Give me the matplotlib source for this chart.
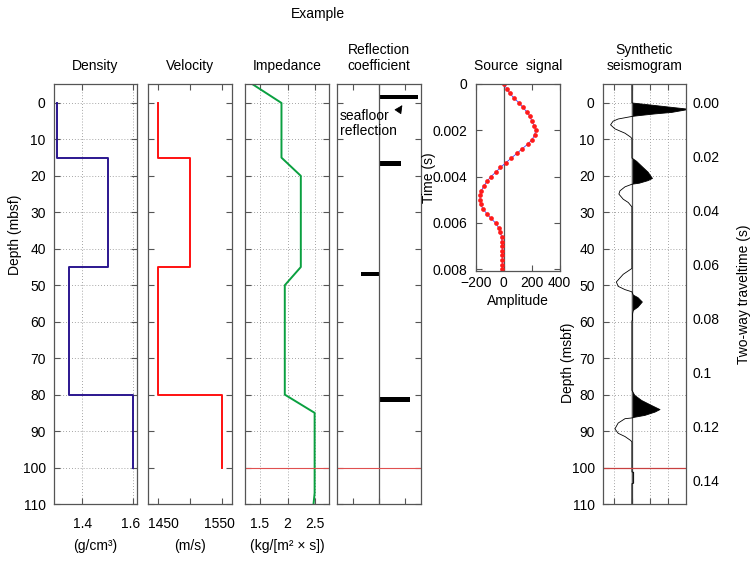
import numpy as np
import matplotlib
matplotlib.use("Agg")
import matplotlib.pyplot as plt
from matplotlib.transforms import ScaledTranslation

plt.rcParams["font.family"] = ["Liberation Sans", "DejaVu Sans"]
plt.rcParams["font.size"] = 10

# Layer model (depth in mbsf)
layer_top = [0, 15, 45, 80]
layer_bottom = [15, 45, 80, 100]
density = [1.30, 1.50, 1.35, 1.60]          # g/cm3
velocity = [1450, 1500, 1450, 1550]         # m/s

# Impedance as resampled on 5 m steps
imp_depth = [-5, 0, 15, 20, 45, 50, 80, 85, 107, 110]
imp_value = [1.38, 1.89, 1.89, 2.24, 2.24, 1.95, 1.95, 2.49, 2.49, 2.47]

# Reflection coefficients
refl_depth = [-1.7, 16.6, 46.9, 81.3]
refl_coef = [0.076, 0.043, -0.035, 0.059]

# Source signal, sampled every 0.2 ms
src_amp = [0, 21, 43, 71, 107, 136, 164, 189, 200, 219, 229, 221, 203, 171,
           131, 93, 53, 14, -24, -57, -93, -121, -143, -161, -169, -172, -166,
           -150, -121, -93, -59, -38, -26, -16, -14, -11, -11, -11, -11, -10, -10]
src_time = np.arange(len(src_amp)) * 0.0002

# Synthetic seismogram trace
seis_depth = [-5, 0, 1.7, 1.9, 2.6, 3.0, 3.5, 3.7, 4.4, 5.0, 6.0, 7.1, 8.3, 9.4, 9.8,
              15.1, 16.0, 17.7, 19.0, 20.7, 21.3, 22.0, 22.3, 23.0, 24.1, 25.0, 26.4,
              27.3, 28.5,
              45.4, 47.0, 49.1, 50.3, 51.2, 51.8, 52.7, 53.4, 54.6, 56.0, 56.9, 57.8,
              59.6, 59.8,
              78.8, 80.2, 81.6, 83.0, 84.1, 84.8, 85.7, 86.2, 86.4, 86.6, 87.8, 89.4,
              90.6, 91.5, 92.6, 93.0,
              101.2, 101.3, 104.3, 104.4, 110]
seis_amp = [0, 0, 1.55, 1.5, 1.1, 0.64, 0.17, 0, -0.38, -0.52, -0.59, -0.47, -0.19, -0.03, 0,
            0, 0.13, 0.31, 0.45, 0.57, 0.45, 0.21, 0, -0.19, -0.33, -0.36, -0.24,
            -0.10, 0,
            0, -0.24, -0.43, -0.38, -0.19, 0, 0.04, 0.17, 0.29, 0.17, 0.04, 0.02,
            0.02, 0,
            0, 0.08, 0.27, 0.55, 0.78, 0.64, 0.36, 0.08, 0, -0.19, -0.38, -0.47,
            -0.38, -0.19, -0.03, 0,
            0, 0.05, 0.05, 0, 0]

twt_ticks = [0, 0.02, 0.04, 0.06, 0.08, 0.1, 0.12, 0.14]
twt_labels = ["0.00", "0.02", "0.04", "0.06", "0.08", "0.1", "0.12", "0.14"]
twt_scale = 740  # depth (m) per second of two-way time

W, H = 752, 563
AX_COL = "#555555"
GRID = dict(color="#888888", linestyle=(0, (1, 2.5)), linewidth=0.6)

fig = plt.figure(figsize=(W / 100, H / 100), dpi=100)


def add_axes(x0, x1, y0, y1):
    return fig.add_axes([x0 / W, 1 - y1 / H, (x1 - x0) / W, (y1 - y0) / H])


def style(ax, xpad=9):
    for s in ax.spines.values():
        s.set_color(AX_COL)
        s.set_linewidth(0.9)
    ax.tick_params(direction="in", top=True, right=True, length=4, width=0.8,
                   color=AX_COL, labelsize=10)
    ax.tick_params(axis="x", pad=xpad)
    ax.tick_params(axis="y", pad=6)


def depth_panel(x0, x1, title, grid=True, ylabels=False):
    ax = add_axes(x0, x1, 84, 504)
    style(ax)
    ax.set_ylim(110, -5.2)
    ax.set_yticks(range(0, 111, 10))
    if not ylabels:
        ax.set_yticklabels([])
    if grid:
        ax.grid(True, **GRID)
    ax.set_title(title, fontsize=10, pad=10)
    ax.set_axisbelow(True)
    return ax


def step_profile(values):
    xs, ys = [], []
    for top, bot, v in zip(layer_top, layer_bottom, values):
        xs += [v, v]
        ys += [top, bot]
    return xs, ys


def nudge(label, dx_px):
    label.set_transform(label.get_transform() +
                        ScaledTranslation(dx_px / 100, 0, fig.dpi_scale_trans))


# Density
ax1 = depth_panel(54, 137, "Density", ylabels=True)
x, y = step_profile(density)
ax1.plot(x, y, color="#2b168f", lw=1.4)
ax1.set_xlim(1.29, 1.615)
ax1.set_xticks([1.4, 1.6])
ax1.set_xticklabels(["1.4", "1.6"])
ax1.set_xlabel("(g/cm³)", labelpad=6)
ax1.set_ylabel("Depth (mbsf)")
ax1.yaxis.set_label_coords(-0.39, 0.64)
nudge(ax1.get_xticklabels()[1], -3)

# Velocity
ax2 = depth_panel(148, 232, "Velocity", grid=False)
x, y = step_profile(velocity)
ax2.plot(x, y, color="#ff1010", lw=1.4)
ax2.set_xlim(1434, 1566)
ax2.set_xticks([1450, 1500, 1550])
ax2.set_xticklabels(["1450", "", "1550"])
ax2.set_xlabel("(m/s)", labelpad=6)
nudge(ax2.get_xticklabels()[0], 5)
nudge(ax2.get_xticklabels()[2], -2)

# Impedance
ax3 = depth_panel(245, 329, "Impedance")
ax3.plot(imp_value, imp_depth, color="#0aa040", lw=1.4)
ax3.set_xlim(1.23, 2.75)
ax3.set_xticks([1.5, 2, 2.5])
ax3.set_xticklabels(["1.5", "2", "2.5"])
ax3.set_xlabel("(kg/[m² × s])", labelpad=6)
ax3.axhline(100, color="#e05050", lw=0.8)

# Reflection coefficient
ax4 = depth_panel(337, 421, "Reflection\ncoefficient", grid=False)
ax4.set_xlim(-0.081, 0.081)
ax4.set_xticks([-0.05, 0, 0.05])
ax4.set_xticklabels([])
ax4.axvline(0, color=AX_COL, lw=0.9)
ax4.barh(refl_depth, refl_coef, height=[1.0, 1.6, 1.3, 1.4], left=0, color="black")
ax4.axhline(100, color="#e05050", lw=0.8)
ax4.text(-0.076, 1.6, "seafloor\nreflection", ha="left", va="top", fontsize=10,
         linespacing=1.15)
ax4.annotate("", xy=(0.045, 0.6), xytext=(0.037, 2.3),
             arrowprops=dict(arrowstyle="-|>,head_length=0.5,head_width=0.25",
                             color="black", lw=0.6, shrinkA=0, shrinkB=0))

# Source signal
ax5 = add_axes(476, 559.5, 84, 270.7)
style(ax5, xpad=4)
ax5.axvline(0, color=AX_COL, lw=0.9)
ax5.plot(src_amp, src_time, color="#4040ff", lw=0.6)
ax5.plot(src_amp, src_time, "o", color="#ff1a1a", ms=3.4, mec="none")
ax5.set_xlim(-200, 400)
ax5.set_ylim(0.00806, 0)
ax5.set_xticks([-200, 0, 200, 400])
ax5.set_yticks([0, 0.002, 0.004, 0.006, 0.008])
ax5.set_yticklabels(["0", "0.002", "0.004", "0.006", "0.008"])
ax5.set_title("Source  signal", fontsize=10, pad=10)
ax5.set_xlabel("Amplitude", labelpad=3)
ax5.set_ylabel("Time (s)")
ax5.yaxis.set_label_coords(-0.48, 0.5)

# Synthetic seismogram
ax6 = depth_panel(603, 686, "Synthetic\nseismogram", ylabels=True)
ax6.set_xlim(-0.8, 1.5)
ax6.set_xticks([-0.5, 0, 0.5, 1.0])
ax6.set_xticklabels([])
ax6.axvline(0, color=AX_COL, lw=0.9)
sa = np.array(seis_amp)
sd = np.array(seis_depth)
ax6.fill_betweenx(sd, 0, sa, where=sa > 0, interpolate=True, color="black", lw=0)
ax6.plot(sa, sd, color="black", lw=0.6)
ax6.axhline(100, color="#c84040", lw=0.9)
ax6.set_ylabel("Depth (msbf)")
ax6.yaxis.set_label_coords(-0.34, 0.335)

ax7 = ax6.twinx()
ax7.set_ylim(110 / twt_scale, -5.2 / twt_scale)
ax7.set_yticks(twt_ticks)
ax7.set_yticklabels(twt_labels)
ax7.tick_params(axis="y", length=0, pad=5, labelsize=10)
for s in ax7.spines.values():
    s.set_visible(False)
ax7.set_ylabel("Two-way traveltime (s)", labelpad=12)

fig.text(318 / W, 1 - 14 / H, "Example", ha="center", va="center", fontsize=10)

fig.savefig("out.png", dpi=100)
